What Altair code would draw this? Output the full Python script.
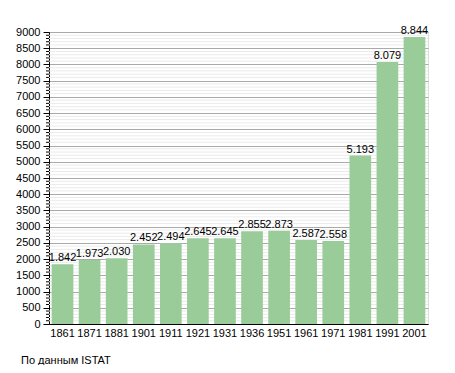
import altair as alt
import pandas as pd

years = ["1861", "1871", "1881", "1901", "1911", "1921", "1931", "1936", "1951", "1961", "1971", "1981", "1991", "2001"]
population = [1842, 1973, 2030, 2452, 2494, 2645, 2645, 2855, 2873, 2587, 2558, 5193, 8079, 8844]
labels = ["1.842", "1.973", "2.030", "2.452", "2.494", "2.645", "2.645", "2.855", "2.873", "2.587", "2.558", "5.193", "8.079", "8.844"]
major_ticks = list(range(0, 9001, 500))
minor_ticks = [v for v in range(0, 9001, 100) if v % 500 != 0]
caption = ["По данным  ISTAT"]

df = pd.DataFrame({"year": years, "pop": population, "label": labels})
FONT = "Liberation Sans"
yscale = alt.Scale(domain=[0, 9000], nice=False, zero=True)
xscale = alt.Scale(paddingInner=0.2, paddingOuter=0.1)

yaxis = alt.Axis(values=major_ticks, format="d", tickSize=6, gridColor="#aaaaaa",
                 tickColor="#000", domainColor="#000", labelFontSize=11, labelFont=FONT,
                 labelColor="#000", labelPadding=3, grid=True, labelOverlap=False, title=None)
xaxis = alt.Axis(labelAngle=0, ticks=False, labelPadding=3, labelFontSize=11, grid=False,
                 labelFont=FONT, labelColor="#000", domainColor="#000", title=None)

minor_grid = alt.Chart(pd.DataFrame({"pop": minor_ticks})).mark_rule(color="#ebebeb", strokeWidth=1).encode(
    y=alt.Y("pop:Q", scale=yscale, axis=yaxis), x=alt.value(0), x2=alt.value(379))
minor_tick = alt.Chart(pd.DataFrame({"pop": minor_ticks})).mark_rule(color="#000", strokeWidth=1).encode(
    y=alt.Y("pop:Q", scale=yscale, axis=yaxis), x=alt.value(-3), x2=alt.value(0))

bars = alt.Chart(df).mark_bar(color="#99cc99").encode(
    x=alt.X("year:N", sort=years, scale=xscale, axis=xaxis),
    y=alt.Y("pop:Q", scale=yscale, axis=yaxis))
text = alt.Chart(df).mark_text(baseline="bottom", dy=-1, fontSize=11, font=FONT, color="#000").encode(
    x=alt.X("year:N", sort=years, scale=xscale, axis=xaxis),
    y=alt.Y("pop:Q", scale=yscale, axis=yaxis), text="label:N")
cap = alt.Chart(pd.DataFrame({"t": caption})).mark_text(
    align="left", baseline="middle", fontSize=11, font=FONT, color="#000").encode(
    x=alt.value(-28), y=alt.value(329), text="t:N")

chart = alt.layer(minor_grid, minor_tick, bars, text, cap).properties(
    width=379, height=292,
    autosize=alt.AutoSizeParams(type="none"),
    padding={"left": 41, "top": 24, "right": 19, "bottom": 41},
).configure_view(stroke=None).configure(background="white")

chart.save("out.html", embed_options={"renderer": "svg", "actions": False})
